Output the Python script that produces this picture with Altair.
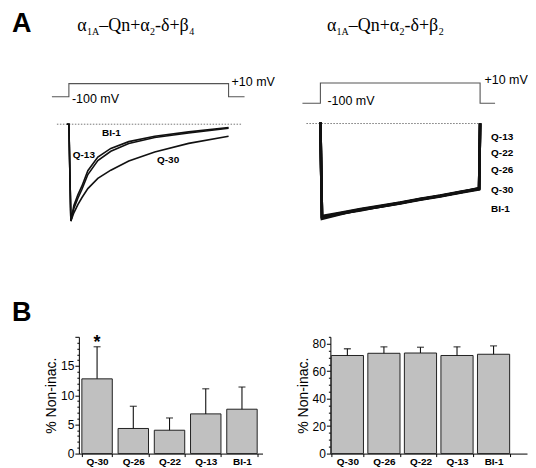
import altair as alt
import pandas as pd

# ---------------- Panel A : current traces ----------------
# alpha1A-Qn + alpha2-delta + beta4 (normalised current vs time, ms)
b4_time = [-10, 0, 10, 25, 45, 65, 95, 145, 210, 300, 430, 600, 800]
b4_bi1 = [0, 0, -1.0, -0.84, -0.73, -0.64, -0.48, -0.34, -0.25, -0.18, -0.124, -0.079, -0.034]
b4_q13 = [0, 0, -1.0, -0.87, -0.765, -0.675, -0.52, -0.375, -0.28, -0.2, -0.138, -0.09, -0.042]
b4_q30 = [0, 0, -1.0, -0.915, -0.83, -0.76, -0.665, -0.56, -0.475, -0.38, -0.286, -0.198, -0.124]
b4_step_time = [-85, 0, 0, 800, 800, 880]
b4_step_mv = [-100, -100, 10, 10, -100, -100]
b4_zero_time = [-60, 870]
b4_labels = ["BI-1", "Q-13", "Q-30"]
b4_label_time = [213, 75, 497]
b4_label_cur = [-0.092, -0.32, -0.37]

# alpha1A-Qn + alpha2-delta + beta2
b2_time = [-5, 0, 8, 100, 200, 300, 400, 500, 600, 700, 795, 800]
b2_q13 = [0, 0, -1.0, -0.96, -0.92, -0.885, -0.85, -0.81, -0.775, -0.735, -0.70, 0]
b2_q22 = [0, 0, -1.01, -0.965, -0.925, -0.89, -0.855, -0.815, -0.78, -0.74, -0.705, 0]
b2_q26 = [0, 0, -0.99, -0.955, -0.915, -0.88, -0.845, -0.805, -0.77, -0.73, -0.695, 0]
b2_q30 = [0, 0, -1.0, -0.962, -0.93, -0.888, -0.848, -0.812, -0.772, -0.738, -0.69, 0]
b2_bi1 = [0, 0, -1.02, -0.97, -0.92, -0.89, -0.853, -0.808, -0.778, -0.733, -0.698, 0]
b2_step_time = [-90, 0, 0, 800, 800, 875]
b2_step_mv = [-100, -100, 10, 10, -100, -100]
b2_zero_time = [-70, 810]
b2_labels = ["Q-13", "Q-22", "Q-26", "Q-30", "BI-1"]
b2_label_time = [855, 855, 855, 855, 855]
b2_label_cur = [-0.143, -0.32, -0.498, -0.712, -0.918]

hold_label = "-100 mV"
test_label = "+10 mV"

# ---------------- Panel B : % non-inactivating current ----------------
constructs = ["Q-30", "Q-26", "Q-22", "Q-13", "BI-1"]
b4_noninac = [12.8, 4.3, 4.0, 6.8, 7.6]
b4_sem = [5.5, 3.8, 2.1, 4.3, 3.8]
b4_signif = ["*", "", "", "", ""]
b2_noninac = [71.4, 73.0, 73.2, 71.4, 72.3]
b2_sem = [4.9, 4.7, 4.2, 6.3, 6.1]
b2_signif = ["", "", "", "", ""]
b4_yticks = list(range(0, 21))
b2_yticks = list(range(0, 86, 5))

# title pieces (main text / subscript)
title_pieces = ["α", "1A", "–Qn+α", "2", "-δ+β"]
title_is_sub = [False, True, False, True, False]

SANS = "Liberation Sans"
SERIF = "Liberation Serif"
PANEL_H = 232
PX_PER_MS = 0.2


def title_layer(last_sub, t_center, cur_base, xs, ys):
    pieces = title_pieces + [last_sub]
    subs = title_is_sub + [True]
    widths = [9.7, 12.2, 50.9, 5.0, 34.2, 5.0]
    pos, acc = [], -sum(widths) / 2
    for w in widths:
        pos.append(t_center + acc / PX_PER_MS)
        acc += w
    df = pd.DataFrame({"txt": pieces, "sub": subs, "t": pos, "cur": [cur_base] * 6})
    base = alt.Chart(df).encode(
        x=alt.X("t:Q", scale=xs, axis=None),
        y=alt.Y("cur:Q", scale=ys, axis=None),
        text="txt:N",
    )
    main = base.transform_filter("!datum.sub").mark_text(
        align="left", baseline="alphabetic", font=SERIF, fontSize=18, color="black")
    sub = base.transform_filter("datum.sub").mark_text(
        align="left", baseline="alphabetic", font=SERIF, fontSize=10, dy=4, color="black")
    return [main, sub]


def volt_label(text, t, mv, dy, xs, vs):
    df = pd.DataFrame({"lab": [text], "t": [t], "mv": [mv]})
    return alt.Chart(df).mark_text(align="left", baseline="middle", font=SANS, fontSize=12.5,
                                   dy=dy, color="black").encode(
        x=alt.X("t:Q", scale=xs, axis=None), y=alt.Y("mv:Q", scale=vs, axis=None), text="lab:N")


def trace_panel(width, x_dom, v_dom, i_dom, step_t, step_mv, zero_t, time, traces,
                trace_w, labels, lab_t, lab_c, lab_align, hold_pos, test_pos,
                t_title, c_title, last_sub, panel_letter=None, letter_pos=None):
    xs = alt.Scale(domain=x_dom, nice=False, zero=False)
    vs = alt.Scale(domain=v_dom, nice=False, zero=False)
    cs = alt.Scale(domain=i_dom, nice=False, zero=False)

    step_df = pd.DataFrame({"t": step_t, "mv": step_mv, "i": range(len(step_t))})
    step = alt.Chart(step_df).mark_line(color="#555", strokeWidth=1.1).encode(
        x=alt.X("t:Q", scale=xs, axis=None), y=alt.Y("mv:Q", scale=vs, axis=None),
        order="i:Q")

    zero_df = pd.DataFrame({"t": zero_t, "cur": [0, 0]})
    zero = alt.Chart(zero_df).mark_line(color="#777", strokeWidth=1, strokeDash=[1.5, 1.5]).encode(
        x=alt.X("t:Q", scale=xs, axis=None), y=alt.Y("cur:Q", scale=cs, axis=None))

    rows = []
    for name, vals in traces:
        for k, (t, c) in enumerate(zip(time, vals)):
            rows.append({"t": t, "cur": c, "trace": name, "i": k})
    tr_df = pd.DataFrame(rows)
    tr = alt.Chart(tr_df).mark_line(color="#111", strokeWidth=trace_w).encode(
        x=alt.X("t:Q", scale=xs, axis=None), y=alt.Y("cur:Q", scale=cs, axis=None),
        detail="trace:N", order="i:Q")

    lab_df = pd.DataFrame({"lab": labels, "t": lab_t, "cur": lab_c})
    lab = alt.Chart(lab_df).mark_text(align=lab_align, baseline="middle", font=SANS,
                                      fontSize=10, fontWeight="bold", color="black").encode(
        x=alt.X("t:Q", scale=xs, axis=None), y=alt.Y("cur:Q", scale=cs, axis=None), text="lab:N")

    hl = volt_label(hold_label, hold_pos[0], -100, hold_pos[1], xs, vs)
    tl = volt_label(test_label, test_pos[0], 10, test_pos[1], xs, vs)

    layers = [step, zero, tr, lab, hl, tl] + title_layer(last_sub, t_title, c_title, xs, cs)
    if panel_letter:
        let_df = pd.DataFrame({"lab": [panel_letter], "t": [letter_pos[0]], "cur": [letter_pos[1]]})
        layers.append(alt.Chart(let_df).mark_text(
            align="left", baseline="alphabetic", font=SANS, fontSize=27, fontWeight="bold",
            color="black").encode(
            x=alt.X("t:Q", scale=xs, axis=None), y=alt.Y("cur:Q", scale=cs, axis=None),
            text="lab:N"))
    return alt.layer(*layers).resolve_scale(y="independent").properties(width=width, height=PANEL_H)


panel_b4 = trace_panel(
    201, [50, 1055], [-1295.8, 637.5], [-1.196, 1.196],
    b4_step_time, b4_step_mv, b4_zero_time, b4_time,
    [("BI-1", b4_bi1), ("Q-13", b4_q13), ("Q-30", b4_q30)], 1.6,
    b4_labels, b4_label_time, b4_label_cur, "center",
    (15, 2), (815, -2), 335, 0.96, "4", panel_letter="A", letter_pos=[-285, 0.948])

panel_b2 = trace_panel(
    244, [-205, 1015], [-842.3, 414.8], [-1.2455, 1.2305],
    b2_step_time, b2_step_mv, b2_zero_time, b2_time,
    [("Q-13", b2_q13), ("Q-22", b2_q22), ("Q-26", b2_q26), ("Q-30", b2_q30), ("BI-1", b2_bi1)], 2.6,
    b2_labels, b2_label_time, b2_label_cur, "left",
    (35, -2), (822, -3), 325, 0.985, "2")


def bar_panel(values, sems, signif, ticks, major, label_every, top, width, title_text, title_dx,
              p_in, p_out, p_align):
    df = pd.DataFrame({"construct": constructs, "val": values,
                       "hi": [v + s for v, s in zip(values, sems)], "sig": signif})
    xs = alt.Scale(paddingInner=p_in, paddingOuter=p_out, align=p_align)
    xax = alt.Axis(labelAngle=0, labelFont=SANS, labelFontSize=10, labelFontWeight="bold",
                   labelColor="black", labelPadding=0, tickSize=3, tickBand="extent",
                   tickColor="black", domainColor="black")
    ys = alt.Scale(domain=[0, top], nice=False)
    yax = alt.Axis(values=ticks, grid=False, labelOverlap=False,
                   labelExpr=f"datum.value % {label_every} == 0 && datum.value < {top} ? datum.label : ''",
                   tickSize={"condition": {"test": f"datum.value % {major} == 0", "value": 4}, "value": 2},
                   labelFont=SANS, labelFontSize=12, labelColor="black", labelPadding=1,
                   titleFont=SANS, titleFontSize=14, titleFontWeight="normal", titleColor="black",
                   titlePadding=2, domainColor="black", tickColor="black")
    X = alt.X("construct:N", sort=constructs, scale=xs, axis=xax, title=None)
    base = alt.Chart(df)
    bars = base.mark_bar(fill="#c0c0c0", stroke="#222", strokeWidth=1).encode(
        x=X, y=alt.Y("val:Q", scale=ys, axis=yax, title="% Non-inac."))
    rule = base.mark_rule(color="#111", strokeWidth=1.1).encode(
        x=X, y=alt.Y("val:Q", scale=ys, axis=yax, title="% Non-inac."), y2="hi:Q")
    cap = base.mark_tick(color="#111", thickness=1.3, size=7, orient="horizontal").encode(
        x=X, y=alt.Y("hi:Q", scale=ys, axis=yax, title="% Non-inac."))
    star = base.mark_text(font=SANS, fontSize=18, fontWeight="bold", baseline="alphabetic",
                          dy=1, color="black").encode(
        x=X, y=alt.Y("hi:Q", scale=ys, axis=yax, title="% Non-inac."), text="sig:N")
    return alt.layer(bars, rule, cap, star).properties(
        width=width, height=117,
        title=alt.TitleParams(title_text, anchor="start", frame="group", font=SANS,
                              fontSize=27, fontWeight="bold", color="black", dx=title_dx, offset=4))


bar_b4 = bar_panel(b4_noninac, b4_sem, b4_signif, b4_yticks, 5, 5, 20, 184, "B", -67,
                   0.16, 0.115, 0.36)
bar_b2 = bar_panel(b2_noninac, b2_sem, b2_signif, b2_yticks, 20, 20, 85, 197, " ", 0,
                   0.12, 0.25, 0.05)

top_row = alt.hconcat(panel_b4, panel_b2, spacing=0)
bottom_row = alt.hconcat(bar_b4, bar_b2, spacing=33)

chart = alt.vconcat(top_row, bottom_row, spacing=59).properties(
    padding={"left": 4, "top": 0, "right": 0, "bottom": 0}
).configure_view(strokeWidth=0)

chart.save("out.html", embed_options={"renderer": "svg", "actions": False})
